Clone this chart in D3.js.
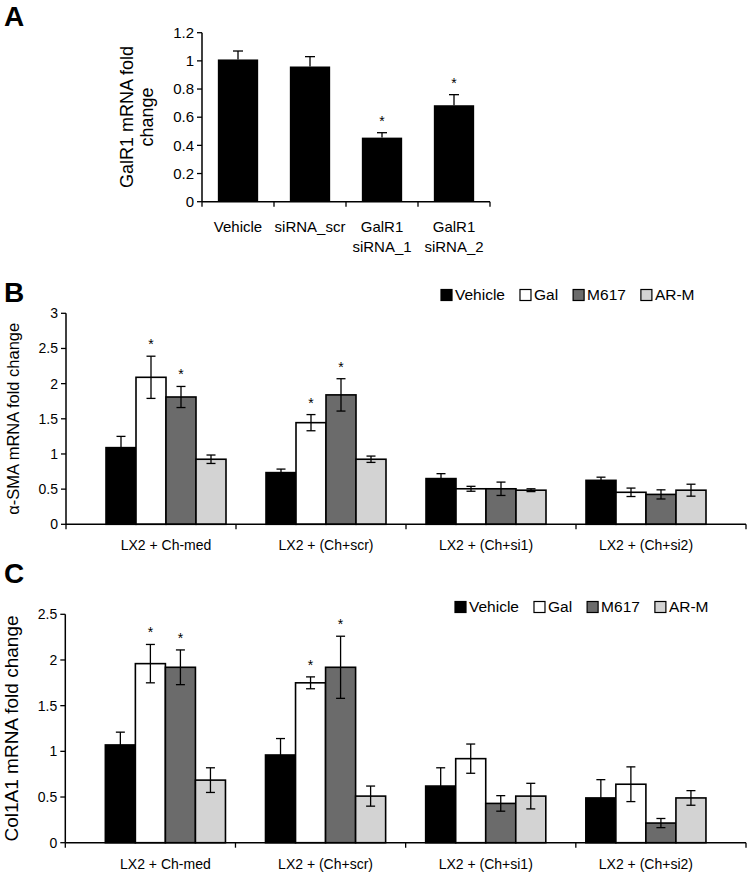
<!DOCTYPE html>
<html><head><meta charset="utf-8">
<script src="https://cdn.jsdelivr.net/npm/d3@7"></script>
<style>body{margin:0;background:#fff}svg{display:block}text{font-family:"Liberation Sans",Arial,sans-serif}</style>
</head><body>
<svg id="c" width="747" height="874"></svg>
<script>
// ---- Data ----
const catsA = [["Vehicle"], ["siRNA_scr"], ["GalR1", "siRNA_1"], ["GalR1", "siRNA_2"]];
const valsA = [1.01, 0.96, 0.455, 0.685];
const errA  = [0.06, 0.07, 0.035, 0.075];
const sigA  = [false, false, true, true];
const ticksA = [0, 0.2, 0.4, 0.6, 0.8, 1, 1.2];

const groups = ["LX2 + Ch-med", "LX2 + (Ch+scr)", "LX2 + (Ch+si1)", "LX2 + (Ch+si2)"];
const series = ["Vehicle", "Gal", "M617", "AR-M"];
const seriesColors = ["#000000", "#ffffff", "#6b6b6b", "#d3d3d3"];

// alpha-SMA: rows = groups, columns = series
const valsB = [[1.09, 2.09, 1.81, 0.925], [0.735, 1.445, 1.84, 0.925], [0.65, 0.505, 0.505, 0.485], [0.625, 0.455, 0.425, 0.485]];
const errB  = [[0.16, 0.30, 0.15, 0.06], [0.05, 0.115, 0.23, 0.045], [0.07, 0.035, 0.095, 0.02], [0.045, 0.06, 0.065, 0.085]];
const sigB  = [[false, true, true, false], [false, true, true, false], [false, false, false, false], [false, false, false, false]];
const ticksB = [0, 0.5, 1, 1.5, 2, 2.5, 3];

// Col1A1
const valsC = [[1.07, 1.96, 1.92, 0.685], [0.96, 1.75, 1.92, 0.51], [0.62, 0.92, 0.43, 0.51], [0.49, 0.64, 0.215, 0.49]];
const errC  = [[0.14, 0.21, 0.19, 0.135], [0.18, 0.065, 0.34, 0.11], [0.2, 0.16, 0.085, 0.14], [0.2, 0.19, 0.05, 0.08]];
const sigC  = [[false, true, true, false], [false, true, true, false], [false, false, false, false], [false, false, false, false]];
const ticksC = [0, 0.5, 1, 1.5, 2, 2.5];

const svg = d3.select("#c");

function yAxisDraw(g, y, x0, ticks, fs) {
  g.append("line").attr("x1", x0).attr("x2", x0).attr("y1", y(ticks[ticks.length-1])).attr("y2", y(0))
    .attr("stroke", "#000").attr("stroke-width", 1.5);
  ticks.forEach(t => {
    g.append("line").attr("x1", x0 - 5).attr("x2", x0).attr("y1", y(t)).attr("y2", y(t))
      .attr("stroke", "#000").attr("stroke-width", 1.3);
    g.append("text").attr("x", x0 - 8).attr("y", y(t)).attr("dy", "0.35em").attr("text-anchor", "end")
      .attr("font-size", fs).attr("fill", "#000").text(String(t));
  });
}
function xAxisDraw(g, x, y0, n, x0, x1) {
  g.append("line").attr("x1", x0).attr("x2", x1).attr("y1", y0).attr("y2", y0)
    .attr("stroke", "#000").attr("stroke-width", 1.5);
  const step = (x1 - x0) / n;
  for (let i = 0; i <= n; i++) {
    g.append("line").attr("x1", x0 + i*step).attr("x2", x0 + i*step).attr("y1", y0).attr("y2", y0 + 5)
      .attr("stroke", "#000").attr("stroke-width", 1.3);
  }
}
function errBar(g, cx, yTop, yBot, cap) {
  g.append("line").attr("x1", cx).attr("x2", cx).attr("y1", yTop).attr("y2", yBot).attr("stroke", "#000").attr("stroke-width", 1.3);
  g.append("line").attr("x1", cx - cap/2).attr("x2", cx + cap/2).attr("y1", yTop).attr("y2", yTop).attr("stroke", "#000").attr("stroke-width", 1.3);
  g.append("line").attr("x1", cx - cap/2).attr("x2", cx + cap/2).attr("y1", yBot).attr("y2", yBot).attr("stroke", "#000").attr("stroke-width", 1.3);
}
function star(g, cx, yc) {
  g.append("text").attr("x", cx).attr("y", yc + 8).attr("text-anchor", "middle").attr("font-size", 14).attr("fill", "#000").text("*");
}

// ---- Panel A ----
{
  const g = svg.append("g");
  const x0 = 202, x1 = 490;
  const y = d3.scaleLinear().domain([0, 1.2]).range([201.7, 32.7]);
  const x = d3.scaleBand().domain(d3.range(catsA.length)).range([x0, x1]).paddingInner(0.44).paddingOuter(0.22);
  g.selectAll("rect.a").data(valsA).join("rect")
    .attr("x", (d, i) => x(i)).attr("width", x.bandwidth())
    .attr("y", d => y(d)).attr("height", d => y(0) - y(d)).attr("fill", "#000");
  valsA.forEach((v, i) => {
    const cx = x(i) + x.bandwidth()/2;
    g.append("line").attr("x1", cx).attr("x2", cx).attr("y1", y(v + errA[i])).attr("y2", y(v)).attr("stroke", "#000").attr("stroke-width", 1.3);
    g.append("line").attr("x1", cx - 5).attr("x2", cx + 5).attr("y1", y(v + errA[i])).attr("y2", y(v + errA[i])).attr("stroke", "#000").attr("stroke-width", 1.3);
    if (sigA[i]) star(g, cx, y(v + errA[i]) - 15);
    catsA[i].forEach((line, j) => {
      g.append("text").attr("x", x0 + (i + 0.5) * (x1 - x0) / catsA.length).attr("y", 232 + j*20)
        .attr("text-anchor", "middle").attr("font-size", 15).attr("fill", "#000").text(line);
    });
  });
  yAxisDraw(g, y, x0, ticksA, 15);
  xAxisDraw(g, x, 201.7, catsA.length, x0, x1);
  const ty = g.append("text").attr("transform", "translate(137,117) rotate(-90)").attr("text-anchor", "middle").attr("font-size", 18).attr("fill", "#000");
  ty.append("tspan").attr("x", 0).attr("dy", "-0.22em").text("GalR1 mRNA fold");
  ty.append("tspan").attr("x", 0).attr("dy", "1.12em").text("change");
  g.append("text").attr("x", 4).attr("y", 26).attr("font-size", 28).attr("font-weight", "bold").attr("fill", "#000").text("A");
}

// ---- Grouped panels ----
function grouped(opts) {
  const g = svg.append("g");
  const { x0, x1, yMax, yTopPx, y0Px, vals, errs, sigs, ticks, label, labelSize, labelX, letter, letterY, legendX, legendY } = opts;
  const y = d3.scaleLinear().domain([0, yMax]).range([y0Px, yTopPx]);
  const x = d3.scaleBand().domain(groups).range([x0, x1]).padding(0.25);
  const xs = d3.scaleBand().domain(series).range([0, x.bandwidth()]).padding(0);
  groups.forEach((grp, gi) => {
    series.forEach((s, si) => {
      const v = vals[gi][si];
      g.append("rect").attr("x", x(grp) + xs(s)).attr("width", xs.bandwidth())
        .attr("y", y(v)).attr("height", y(0) - y(v))
        .attr("fill", seriesColors[si]).attr("stroke", "#000").attr("stroke-width", 1.6);
    });
    series.forEach((s, si) => {
      const v = vals[gi][si], e = errs[gi][si];
      const cx = x(grp) + xs(s) + xs.bandwidth()/2;
      errBar(g, cx, y(v + e), y(v - e), 9);
      if (sigs[gi][si]) star(g, cx, y(v + e) - 15);
    });
    g.append("text").attr("x", x(grp) + x.bandwidth()/2).attr("y", y0Px + 26).attr("text-anchor", "middle")
      .attr("font-size", 14).attr("fill", "#000").text(grp);
  });
  yAxisDraw(g, y, x0, ticks, 14);
  xAxisDraw(g, x, y0Px, groups.length, x0, x1);
  g.append("text").attr("transform", `translate(${labelX},${(y0Px + yTopPx)/2}) rotate(-90)`).attr("dy", "0.35em")
    .attr("text-anchor", "middle").attr("font-size", labelSize).attr("fill", "#000").text(label);
  g.append("text").attr("x", 4).attr("y", letterY).attr("font-size", 28).attr("font-weight", "bold").attr("fill", "#000").text(letter);
  // legend
  let lx = legendX;
  series.forEach((s, si) => {
    g.append("rect").attr("x", lx).attr("y", legendY - 5.5).attr("width", 11).attr("height", 11)
      .attr("fill", seriesColors[si]).attr("stroke", "#000").attr("stroke-width", 1.2);
    const t = g.append("text").attr("x", lx + 14).attr("y", legendY).attr("dy", "0.35em")
      .attr("font-size", 15.5).attr("fill", "#000").text(s);
    lx += 14 + t.node().getComputedTextLength() + 15;
  });
}

grouped({ x0: 66, x1: 746, yMax: 3, yTopPx: 313.3, y0Px: 524.3, vals: valsB, errs: errB, sigs: sigB, ticks: ticksB,
  label: "α-SMA mRNA fold change", labelSize: 16.5, labelX: 13, letter: "B", letterY: 302, legendX: 441, legendY: 295 });
grouped({ x0: 65.3, x1: 746, yMax: 2.5, yTopPx: 614.3, y0Px: 842.7, vals: valsC, errs: errC, sigs: sigC, ticks: ticksC,
  label: "Col1A1 mRNA fold change", labelSize: 19, labelX: 11, letter: "C", letterY: 583, legendX: 455, legendY: 607 });
</script>
</body></html>
